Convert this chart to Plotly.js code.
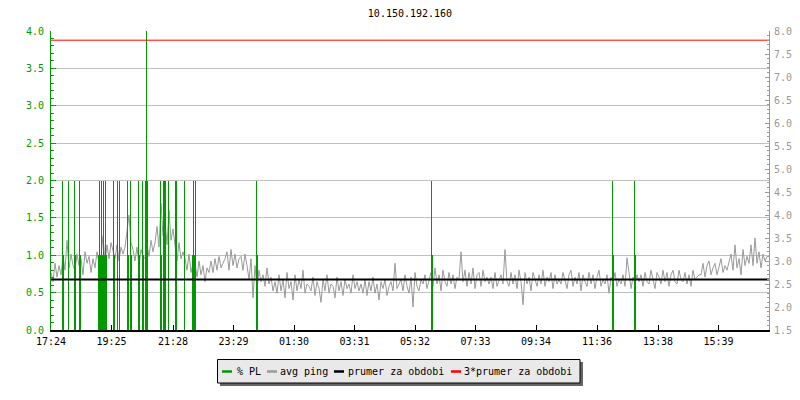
<!DOCTYPE html>
<html><head><meta charset="utf-8">
<script src="https://cdn.plot.ly/plotly-3.0.1.min.js"></script>
<style>html,body{margin:0;padding:0;background:#fff}#chart{width:800px;height:400px}</style>
</head><body><div id="chart"></div>
<script>
const chartTitle = '10.150.192.160';
const tickLabels = ['17:24','19:25','21:28','23:29','01:30','03:31','05:32','07:33','09:34','11:36','13:38','15:39'];
const tickMinutes = [0,121,244,365,486,607,728,849,970,1092,1214,1335];
const spanMinutes = 1436;
const pingStep = 4; // minutes between avg ping samples

// avg ping [ms], right axis
const avgPing = [
 2.75,2.55,2.95,2.65,2.9,2.7,
 3.1,2.8,3.45,2.85,3.15,2.9,
 2.8,3.15,2.9,3.05,2.7,3.2,2.95,3.1,2.75,3.05,2.85,3.2,2.95,
 3.1,3.55,2.95,3.35,3.05,3.4,3.2,
 3.05,3.35,3.0,3.3,3.15,
 3.3,3.7,4.0,3.4,3.25,
 3.0,3.3,2.9,3.25,3.1,
 3.05,3.35,3.1,3.45,3.2,
 3.4,3.75,3.3,4.25,3.55,
 3.85,3.35,4.1,3.45,3.7,
 3.35,3.0,3.4,3.05,3.2,
 3.05,2.8,3.15,2.75,2.95,
 2.95,2.65,3.0,2.7,2.9,2.55,2.85,2.75,
 3.0,2.75,3.05,2.8,3.1,2.85,2.95,
 3.05,3.2,2.8,3.25,2.9,3.15,2.85,3.05,
 3.1,2.8,3.15,2.9,2.6,3.05,2.2,2.9,
 2.4,2.8,2.55,2.7,2.45,2.85,2.5,2.65,2.35,
 2.55,2.3,2.7,2.35,2.6,2.2,2.75,2.4,2.55,2.15,2.7,2.35,2.6,2.4,2.8,2.3,2.5,2.45,
 2.35,2.65,2.25,2.55,2.4,2.1,2.6,2.35,2.7,2.3,2.5,2.45,2.2,2.65,2.35,2.55,2.25,2.6,2.4,2.5,2.3,2.7,2.4,2.55,2.35,
 2.5,2.3,2.6,2.25,2.55,2.35,2.65,2.3,2.5,2.15,2.55,2.4,2.6,2.25,2.45,2.55,2.35,2.95,2.4,2.5,
 2.6,2.35,2.7,2.45,2.3,2.65,2.0,2.75,2.45,2.35,2.6,2.5,2.7,2.4,2.55,
 2.75,2.45,2.85,2.5,2.7,2.35,2.8,2.55,2.45,2.75,2.5,2.7,2.4,2.65,2.6,
 3.2,2.55,2.8,2.45,2.75,2.5,2.85,2.4,2.7,2.75,2.45,2.8,2.55,2.65,2.5,
 2.65,2.4,2.75,2.45,2.6,2.7,2.5,
 3.25,2.55,2.45,2.75,2.5,2.7,2.4,2.8,2.55,2.05,2.75,2.5,2.65,2.35,2.75,2.6,2.45,2.7,2.5,2.8,2.45,2.65,2.55,2.75,2.4,2.7,2.5,2.6,
 2.5,2.75,2.55,2.4,2.7,2.8,2.45,2.65,2.5,2.75,2.35,2.7,2.55,2.45,2.75,2.5,2.7,2.4,2.65,2.8,2.45,2.6,2.5,2.7,2.3,2.65,2.55,2.75,2.45,2.6,
 2.5,2.7,2.45,3.07,2.75,2.4,2.65,2.5,2.7,2.55,
 2.7,2.45,2.75,2.55,2.5,2.8,2.6,2.4,2.75,2.65,2.5,2.8,2.55,2.75,2.45,2.7,2.8,2.55,2.5,2.8,2.6,2.55,2.75,2.5,2.7,2.45,2.8,2.6,2.65,2.7,
 2.7,2.95,2.65,2.9,3.0,2.7,2.85,2.95,2.7,2.9,3.05,2.75,2.9,2.8,3.0,
 3.15,2.8,3.35,2.85,3.05,2.7,3.25,2.9,3.1,2.95,
 3.35,2.9,3.5,2.95,3.2,2.85,3.15,3.0,3.1
];

// packet loss events: minute after start and % PL, left axis
const plMinutes = [23,25,34,47,49,56,58,94,96,98,100,102,104,106,108,110,124,126,132,136,153,155,159,161,175,177,183,185,188,190,192,219,221,225,227,229,235,249,251,267,283,285,287,289,411,413,760,762,1123,1125,1167,1169];
const plPercent = [2,1,2,2,1,2,1,1,2,1,2,1,2,1,2,1,2,1,2,2,2,1,2,1,2,1,2,1,2,4,2,2,1,2,2,2,2,2,2,2,1,2,1,2,2,1,2,1,2,1,2,1];

const periodAvg = 2.6; // prumer za obdobi [ms]

const seriesNames = ['% PL','avg ping','prumer za obdobi','3*prumer za obdobi'];
const seriesColors = ['#009900','#999999','#000000','#ff0000'];

// ---- layout helpers (pixel -> paper) ----
const L = 51, R = 769, T = 31, B = 330;
const xp = px => (px - L) / (R - L);
const yp = py => (B - py) / (B - T);
const FONT = 'DejaVu Sans Mono, monospace';

const pingX = avgPing.map((_, i) => i * pingStep);

const traces = [
  {type:'scatter', mode:'lines', x: pingX, y: avgPing, yaxis:'y',
   line:{color: seriesColors[1], width:1}, name: seriesNames[1], showlegend:false, hoverinfo:'skip'},
  {type:'bar', x: plMinutes, y: plPercent, width: 2, yaxis:'y2',
   marker:{color: seriesColors[0], line:{width:0}}, name: seriesNames[0], showlegend:false, hoverinfo:'skip'},
  {type:'scatter', mode:'lines', x:[0, spanMinutes], y:[periodAvg, periodAvg], yaxis:'y3',
   line:{color: seriesColors[2], width:2}, name: seriesNames[2], showlegend:false, hoverinfo:'skip'},
  {type:'scatter', mode:'lines', x:[0, spanMinutes], y:[3*periodAvg, 3*periodAvg], yaxis:'y3',
   line:{color: seriesColors[3], width:1}, name: seriesNames[3], showlegend:false, hoverinfo:'skip'}
];

// manual legend
const legDash = [222, 267, 334, 451];
const legText = [235.5, 279, 347, 463];
const legY = 371.5;
const shapes = [
  {type:'rect', xref:'paper', yref:'paper', x0:xp(220), x1:xp(583), y0:yp(362), y1:yp(386),
   fillcolor:'#666666', line:{width:0}, layer:'above'},
  {type:'rect', xref:'paper', yref:'paper', x0:xp(217.5), x1:xp(580), y0:yp(359.5), y1:yp(383),
   fillcolor:'#e9e9e9', line:{color:'#000', width:1}, layer:'above'}
];
const annotations = [];
seriesNames.forEach((n, i) => {
  shapes.push({type:'line', xref:'paper', yref:'paper', x0:xp(legDash[i]), x1:xp(legDash[i]+10),
    y0:yp(legY), y1:yp(legY), line:{color:seriesColors[i], width:2.5}, layer:'above'});
  annotations.push({xref:'paper', yref:'paper', x:xp(legText[i]), y:yp(legY), xanchor:'left', yanchor:'middle',
    text:n, showarrow:false, font:{family:FONT, size:10, color:'#000'}, borderpad:0});
});

const layout = {
  width:800, height:400,
  margin:{l:L, r:800-R, t:T, b:400-B, pad:0},
  paper_bgcolor:'#fff', plot_bgcolor:'#fff',
  font:{family:FONT, size:10, color:'#000'},
  title:{text:chartTitle, x:0.5, xref:'paper', xanchor:'center', y:1-13.5/400, yref:'container', yanchor:'middle',
    font:{family:FONT, size:10, color:'#000'}},
  showlegend:false,
  bargap:0,
  xaxis:{type:'linear', range:[0, spanMinutes], tickmode:'array', tickvals:tickMinutes, ticktext:tickLabels,
    ticks:'inside', ticklen:5, tickcolor:'#000', tickwidth:1, showline:true, linecolor:'#000', linewidth:2,
    showgrid:false, zeroline:false, tickfont:{family:FONT, size:10, color:'#000'}, ticklabelstandoff:1, fixedrange:true},
  yaxis:{range:[1.5, 8], side:'right', dtick:0.5, tick0:0, tickformat:'.1f', ticks:'inside', ticklen:4,
    tickcolor:'#999', showline:true, linecolor:'#999', linewidth:1, showgrid:false, zeroline:false,
    tickfont:{family:FONT, size:10, color:'#999'}, ticklabelstandoff:2,
    minor:{dtick:0.1, ticks:'inside', ticklen:2, tickcolor:'#999', showgrid:false}},
  yaxis2:{range:[0, 4], side:'left', overlaying:'y', dtick:0.5, tick0:0, tickformat:'.1f', ticks:'inside', ticklen:5,
    tickcolor:'#009900', showline:true, linecolor:'#009900', linewidth:1, showgrid:true, gridcolor:'#c0c0c0', gridwidth:1,
    zeroline:false, tickfont:{family:FONT, size:10, color:'#009900'}, ticklabelstandoff:4,
    minor:{dtick:0.1, ticks:'inside', ticklen:3, tickcolor:'#009900', showgrid:false}},
  yaxis3:{range:[1.5, 8], overlaying:'y', visible:false},
  shapes: shapes,
  annotations: annotations
};

Plotly.newPlot('chart', traces, layout, {staticPlot:true, displayModeBar:false});
</script>
</body></html>
